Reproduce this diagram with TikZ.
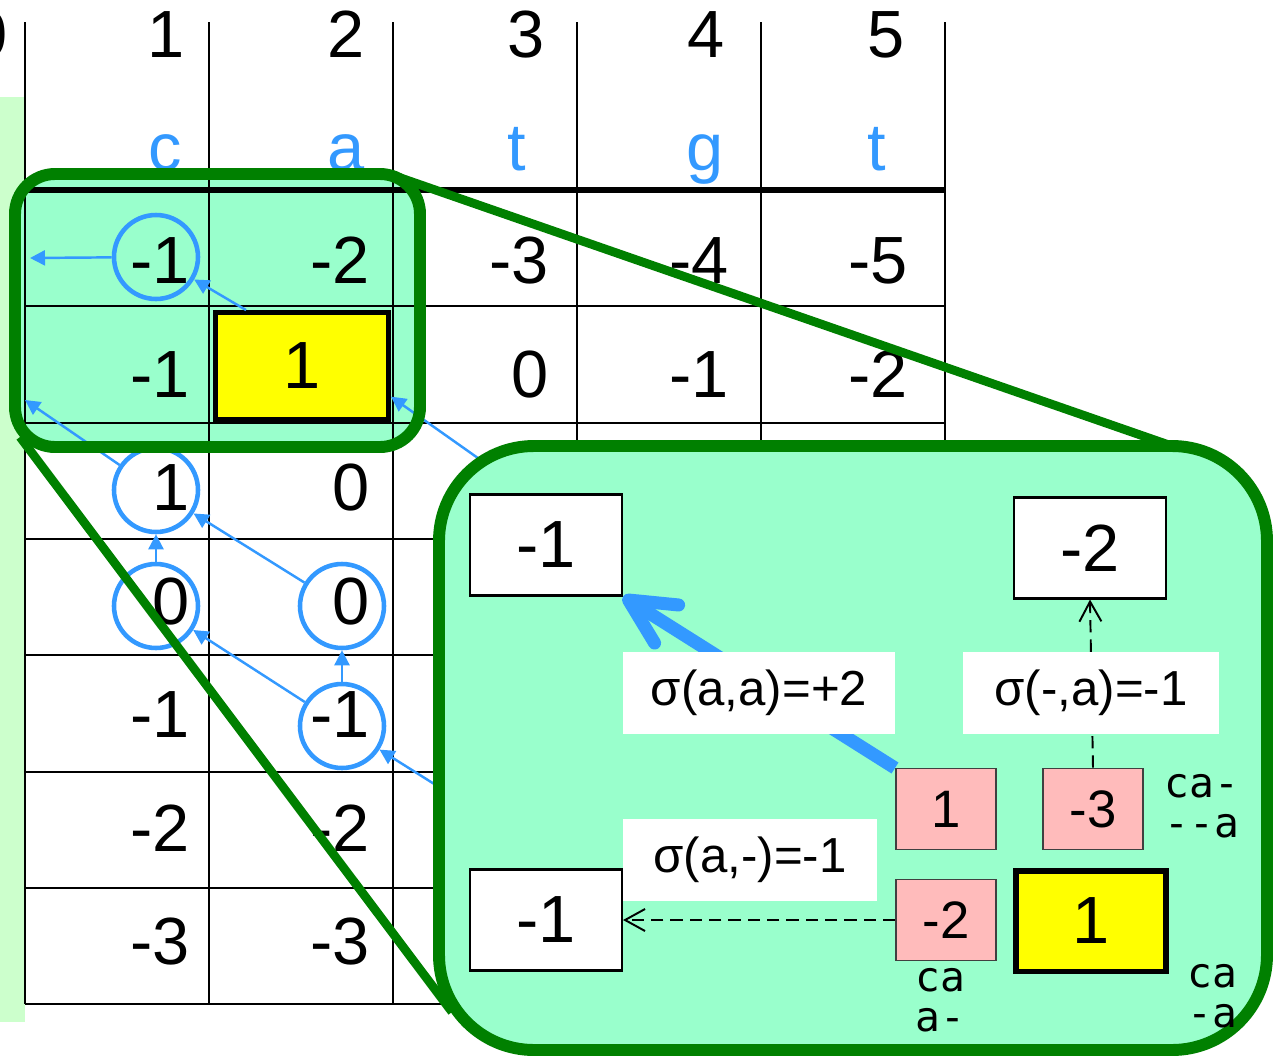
\documentclass[tikz,border=0pt]{standalone}
\usepackage{fontspec}
\setmainfont{Liberation Sans}
\setmonofont{DejaVu Sans Mono}
\usetikzlibrary{arrows.meta}
\definecolor{TraceBlue}{RGB}{51,153,255}
\definecolor{ZoomGreen}{RGB}{0,128,0}
\definecolor{ZoomFill}{RGB}{153,255,204}
\definecolor{StripGreen}{RGB}{204,255,204}
\definecolor{CandPink}{RGB}{255,187,187}
\definecolor{BestYellow}{RGB}{255,255,0}

\begin{document}
\begin{tikzpicture}[x=0.02cm, y=-0.02cm,
    cellnum/.style={anchor=base east, inner sep=0pt, font=\fontsize{38}{40}\selectfont},
    seqchar/.style={anchor=base, inner sep=0pt, text=TraceBlue, font=\fontsize{38}{40}\selectfont},
    gridline/.style={line width=1.2pt},
    trace/.style={circle, draw=TraceBlue, line width=2.6pt, minimum size=1.68cm, inner sep=0pt},
    tracearrow/.style={-{Triangle[length=0.3cm, width=0.3cm]}, draw=TraceBlue, fill=TraceBlue, line width=1.4pt},
    zoombox/.style={draw=ZoomGreen, line width=6.8pt},
    zoomline/.style={draw=ZoomGreen, line width=5pt},
    valbox/.style={draw, fill=white, line width=1.2pt, minimum width=3.04cm, minimum height=2.02cm, inner sep=0pt, font=\fontsize{38}{40}\selectfont},
    candbox/.style={draw=black!75, fill=CandPink, line width=0.9pt, minimum width=2cm, minimum height=1.62cm, inner sep=0pt, font=\fontsize{30}{32}\selectfont},
    bestbox/.style={draw, fill=BestYellow, inner sep=0pt, font=\fontsize{38}{40}\selectfont},
    scorelabel/.style={fill=white, inner sep=0pt, minimum height=1.64cm, font=\fontsize{28}{30}\selectfont},
    alignment/.style={anchor=north west, align=left, inner sep=0pt, font=\ttfamily\fontsize{23.5}{22.8}\selectfont},
    bigarrow/.style={-{Straight Barb[length=0.9cm, width=0.9cm, round]}, draw=TraceBlue, line width=7.4pt},
    dasharrow/.style={-{Straight Barb[length=0.4cm, width=0.44cm]}, dash pattern=on 7pt off 4pt, line width=1.1pt}
  ]
    \useasboundingbox (0,0) rectangle (1276,1059);
    \clip (0,0) rectangle (1276,1059);

    % left strip and zoomed area
    \fill[StripGreen] (0,97) rectangle (25,1022);
    \fill[ZoomFill, rounded corners=0.8cm] (15,174) rectangle (420,447);

    % table lines
    \draw[gridline] (25,22) -- (25,1004);
    \draw[gridline] (209,22) -- (209,1004);
    \draw[gridline] (393,22) -- (393,1004);
    \draw[gridline] (577,22) -- (577,1004);
    \draw[gridline] (761,22) -- (761,1004);
    \draw[gridline] (945,22) -- (945,1004);
    \draw[line width=2.9pt] (25,190) -- (945,190);
    \draw[gridline] (25,306) -- (945,306);
    \draw[gridline] (25,423) -- (945,423);
    \draw[gridline] (25,539) -- (945,539);
    \draw[gridline] (25,655) -- (945,655);
    \draw[gridline] (25,772) -- (945,772);
    \draw[gridline] (25,888) -- (945,888);
    \draw[gridline] (25,1004) -- (945,1004);

    \node[bestbox, minimum width=3.46cm, minimum height=2.14cm, line width=2.8pt] (y22) at (302,366) {1};

    % header
    \node[cellnum] (h0) at (8,57) {0};
    \node[cellnum] (h1) at (185,57) {1};
    \node[cellnum] (h2) at (365,57) {2};
    \node[cellnum] (h3) at (545,57) {3};
    \node[cellnum] (h4) at (725,57) {4};
    \node[cellnum] (h5) at (905,57) {5};
    \node[seqchar] (s1) at (165,170) {c};
    \node[seqchar] (s2) at (346,170) {a};
    \node[seqchar] (s3) at (517,170) {t};
    \node[seqchar] (s4) at (705,170) {g};
    \node[seqchar] (s5) at (877,170) {t};

    % scores
    \node[cellnum] (n11) at (190,283) {-1};
    \node[cellnum] (n12) at (370,283) {-2};
    \node[cellnum] (n13) at (549,283) {-3};
    \node[cellnum] (n14) at (729,283) {-4};
    \node[cellnum] (n15) at (908,283) {-5};
    \node[cellnum] (n21) at (190,397) {-1};
    \node[cellnum] (n23) at (549,397) {0};
    \node[cellnum] (n24) at (729,397) {-1};
    \node[cellnum] (n25) at (908,397) {-2};
    \node[cellnum] (n31) at (190,510) {1};
    \node[cellnum] (n32) at (370,510) {0};
    \node[cellnum] (n41) at (190,624) {0};
    \node[cellnum] (n42) at (370,624) {0};
    \node[cellnum] (n51) at (190,737) {-1};
    \node[cellnum] (n52) at (370,737) {-1};
    \node[cellnum] (n61) at (190,851) {-2};
    \node[cellnum] (n62) at (370,851) {-2};
    \node[cellnum] (n71) at (190,964) {-3};
    \node[cellnum] (n72) at (370,964) {-3};

    % traceback
    \node[trace] (c11) at (156,257) {};
    \node[trace] (c31) at (156,490) {};
    \node[trace] (c41) at (156,606) {};
    \node[trace] (c42) at (342,606) {};
    \node[trace] (c52) at (342,726) {};
    \coordinate (e10) at (30,258);
    \coordinate (e20) at (25,400);
    \coordinate (h33) at (526,492);
    \coordinate (h63) at (528,843);

    \draw[tracearrow] (c11) -- (e10);
    \draw[tracearrow] (y22.135) -- (c11);
    \draw[tracearrow] (c31) -- (e20);
    \draw[tracearrow] (c41) -- (c31);
    \draw[tracearrow] (c42) -- (c31);
    \draw[tracearrow] (c52) -- (c41);
    \draw[tracearrow] (c52) -- (c42);
    \draw[tracearrow] (h33) -- (y22.-19);
    \draw[tracearrow] (h63) -- (c52);

    \draw[zoombox, rounded corners=0.8cm] (15,174) rectangle (420,447);

    % zoom lines
    \coordinate (zs1) at (398,177);
    \coordinate (zb1) at (1172,446);
    \coordinate (zs2) at (20,437);
    \coordinate (zb2) at (452,1012);
    \draw[zoomline] (zs1) -- (zb1);
    \draw[zoomline] (zs2) -- (zb2);

    \draw[zoombox, fill=ZoomFill, rounded corners=1.9cm] (439,446) rectangle (1267,1050);

    % zoomed cell
    \node[valbox] (wA) at (546,545) {-1};
    \node[valbox] (wB) at (1090,548) {-2};
    \node[valbox] (wC) at (546,920) {-1};
    \coordinate (dStart) at (895,768);
    \draw[bigarrow] (dStart) -- (wA.south east);
    \node[candbox] (pD) at (946,809) {1};
    \node[candbox] (pU) at (1093,809) {-3};
    \node[candbox] (pL) at (946,920) {-2};
    \node[bestbox, minimum width=3cm, minimum height=2.02cm, line width=3.4pt] (yC) at (1091,921) {1};

    \draw[dasharrow] (pU.north) -- (wB.south);
    \draw[dasharrow] (pL.west) -- (wC.east);

    \node[scorelabel, minimum width=5.44cm] (sDiag) at (759,693) {σ(a,a)=+2};
    \node[scorelabel, minimum width=5.12cm] (sUp) at (1091,693) {σ(-,a)=-1};
    \node[scorelabel, minimum width=5.1cm] (sLeft) at (750,860) {σ(a,-)=-1};

    \node[alignment] (aU) at (1164,774) {ca-\\-{}-a};
    \node[alignment] (aB) at (915,968) {ca\\a-};
    \node[alignment] (aY) at (1187,964) {ca\\-a};
  \end{tikzpicture}
\end{document}
